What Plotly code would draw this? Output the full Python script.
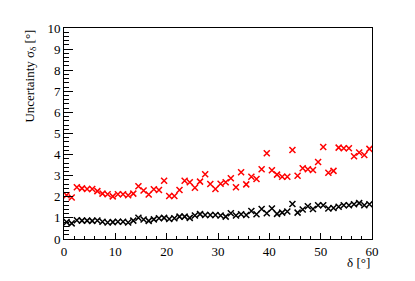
from plotly import graph_objects as go

# bin centres of the delta histogram (1 degree bins)
delta = [i + 0.5 for i in range(60)]

sigma_red = [2.07, 1.97, 2.45, 2.40, 2.37, 2.37, 2.27, 2.15, 2.12, 2.02,
             2.12, 2.12, 2.07, 2.15, 2.50, 2.30, 2.11, 2.36, 2.32, 2.76,
             2.04, 2.04, 2.32, 2.76, 2.69, 2.43, 2.72, 3.07, 2.61, 2.37,
             2.62, 2.69, 2.88, 2.45, 3.16, 2.59, 2.95, 2.84, 3.31, 4.06,
             3.26, 3.05, 2.95, 2.95, 4.22, 3.00, 3.35, 3.31, 3.27, 3.65,
             4.36, 3.14, 3.23, 4.33, 4.30, 4.30, 3.92, 4.10, 3.98, 4.27]

sigma_black = [0.80, 0.74, 0.89, 0.87, 0.87, 0.86, 0.88, 0.82, 0.78, 0.80,
               0.82, 0.82, 0.78, 0.87, 1.01, 0.92, 0.86, 0.93, 0.98, 1.00,
               0.95, 0.98, 1.06, 1.06, 1.00, 1.11, 1.18, 1.14, 1.14, 1.14,
               1.11, 1.06, 1.22, 1.11, 1.17, 1.14, 1.33, 1.17, 1.42, 1.22,
               1.45, 1.19, 1.25, 1.30, 1.66, 1.25, 1.40, 1.55, 1.42, 1.60,
               1.60, 1.45, 1.47, 1.53, 1.60, 1.60, 1.65, 1.70, 1.60, 1.65]

font = 'Liberation Serif, Times New Roman, serif'

fig = go.Figure()
for vals, col in [(sigma_red, 'red'), (sigma_black, 'black')]:
    fig.add_trace(go.Scatter(
        x=delta, y=vals, mode='markers', showlegend=False,
        marker=dict(symbol='x-thin', size=6, line=dict(width=1.5, color=col))))

# ROOT-like frame: ticks inside on left/bottom, plain box on top/right
fig.update_xaxes(range=[0, 60], dtick=10, tick0=0, ticks='inside', ticklen=6,
                 tickwidth=1, tickcolor='black', showline=True, linecolor='black',
                 linewidth=1, mirror=True, showgrid=False, zeroline=False,
                 minor=dict(ticks='inside', ticklen=3, dtick=2, tickcolor='black', showgrid=False),
                 tickfont=dict(family=font, size=13, color='black'))
fig.update_yaxes(range=[0, 10], dtick=1, tick0=0, ticks='inside', ticklen=9,
                 tickwidth=1, tickcolor='black', showline=True, linecolor='black',
                 linewidth=1, mirror=True, showgrid=False, zeroline=False,
                 minor=dict(ticks='inside', ticklen=4.5, dtick=0.2, tickcolor='black', showgrid=False),
                 tickfont=dict(family=font, size=13, color='black'))

fig.add_annotation(text='Uncertainty σ<sub>δ</sub> [°]', textangle=-90,
                   xref='paper', yref='paper', x=-0.11, y=1.0,
                   xanchor='center', yanchor='top', showarrow=False,
                   font=dict(family=font, size=13, color='black'))
fig.add_annotation(text='δ [°]', xref='paper', yref='paper', x=1.0, y=-0.066,
                   xanchor='right', yanchor='top', showarrow=False,
                   font=dict(family=font, size=13, color='black'))

# page body adds an 8px offset, so the figure is shrunk by that much
fig.update_layout(
    width=407, height=273,
    margin=dict(l=56, r=43, t=20, b=42),
    paper_bgcolor='white', plot_bgcolor='white')

fig.write_html('out.html')
